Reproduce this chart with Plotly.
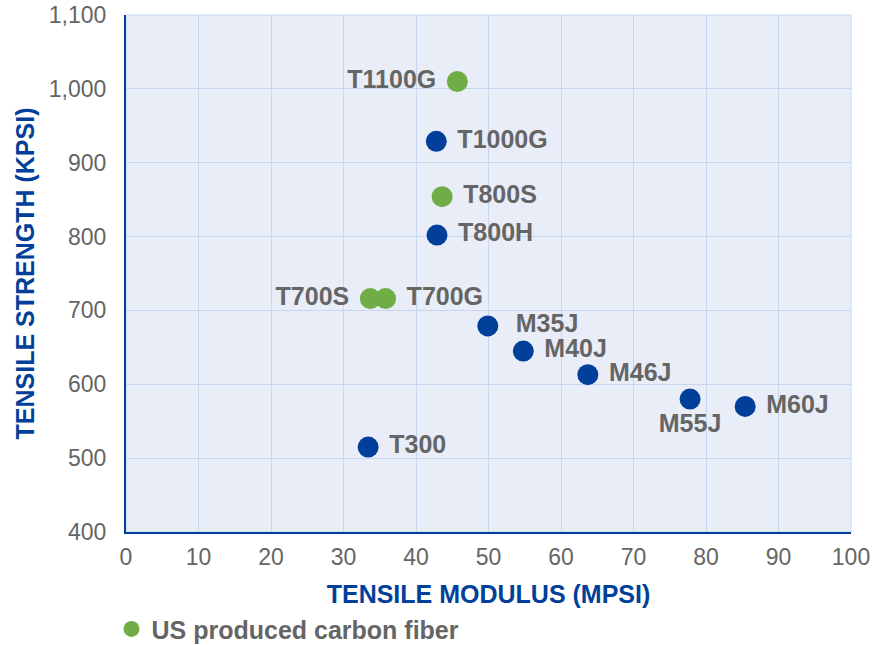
import plotly.graph_objects as go

# Data
us_names = ["T1100G", "T800S", "T700S", "T700G"]
us_modulus = [45.7, 43.6, 33.7, 35.8]
us_strength = [1010, 854, 716, 716]
us_pos = ["middle left", "middle right", "middle left", "middle right"]

other_names = ["T1000G", "T800H", "M35J", "M40J", "M46J", "M55J", "M60J", "T300"]
other_modulus = [42.8, 42.9, 49.9, 54.8, 63.7, 77.8, 85.4, 33.4]
other_strength = [929, 802, 679, 645, 613, 580, 570, 515]
other_pos = ["middle right", "middle right", "middle right", "middle right",
             "middle right", "bottom center", "middle right", "middle right"]

x_ticks = list(range(0, 101, 10))
y_ticks = list(range(400, 1101, 100))

BLUE = "#003F9A"
GREEN = "#70AD47"
GRAY = "#656565"
GRID = "#C7D6EF"
FONT = "Liberation Sans, Arial"


def pad(name, pos):
    if pos.endswith("right"):
        return ("  " if name == "M35J" else " ") + name
    if pos.endswith("left"):
        return name + " "
    return name


fig = go.Figure()
fig.add_trace(go.Scatter(
    x=other_modulus, y=other_strength, mode="markers+text",
    text=[pad(n, p) for n, p in zip(other_names, other_pos)],
    textposition=other_pos,
    marker=dict(color=BLUE, size=21),
    textfont=dict(family=FONT, size=25, color=GRAY, weight="bold"),
    showlegend=False, cliponaxis=False,
))
fig.add_trace(go.Scatter(
    x=us_modulus, y=us_strength, mode="markers+text",
    text=[pad(n, p) for n, p in zip(us_names, us_pos)],
    textposition=us_pos,
    marker=dict(color=GREEN, size=21),
    textfont=dict(family=FONT, size=25, color=GRAY, weight="bold"),
    name="US produced carbon fiber", showlegend=True, cliponaxis=False,
))

fig.update_layout(
    width=885, height=645,
    margin=dict(l=126, r=34, t=15, b=113, autoexpand=False),
    paper_bgcolor="white",
    plot_bgcolor="#E9EDF7",
    font=dict(family=FONT, color=GRAY),
    legend=dict(
        x=-0.02, y=-0.188, xanchor="left", yanchor="middle",
        orientation="h",
        font=dict(size=25, color=GRAY, weight="bold"),
        itemsizing="trace", bgcolor="rgba(0,0,0,0)",
    ),
    xaxis=dict(
        range=[0, 100], tickvals=x_ticks, ticktext=[str(v) for v in x_ticks],
        showgrid=True, gridcolor=GRID, gridwidth=1,
        showline=True, linecolor=BLUE, linewidth=2,
        zeroline=False, ticks="outside", ticklen=3, tickcolor="rgba(0,0,0,0)",
        tickfont=dict(size=23, color=GRAY), automargin=False,
        ticklabeloverflow="allow",
        title=dict(text="TENSILE MODULUS (MPSI)", font=dict(size=25, color=BLUE, weight="bold"), standoff=17),
    ),
    yaxis=dict(
        range=[400, 1100], tickvals=y_ticks, ticktext=[f"{v:,}" for v in y_ticks],
        showgrid=True, gridcolor=GRID, gridwidth=1,
        showline=True, linecolor=BLUE, linewidth=2,
        zeroline=False, ticks="outside", ticklen=13, tickcolor="rgba(0,0,0,0)",
        tickfont=dict(size=23, color=GRAY), automargin=False,
        ticklabeloverflow="allow",
        title=dict(text="TENSILE STRENGTH (KPSI)", font=dict(size=25, color=BLUE, weight="bold"), standoff=7),
    ),
)
fig.add_shape(type="rect", xref="paper", yref="paper", x0=0, y0=0, x1=1, y1=1,
              line=dict(color=GRID, width=1), layer="below")

fig.write_html("out.html", config={"displayModeBar": False},
               post_script="document.body.style.margin='0';")
